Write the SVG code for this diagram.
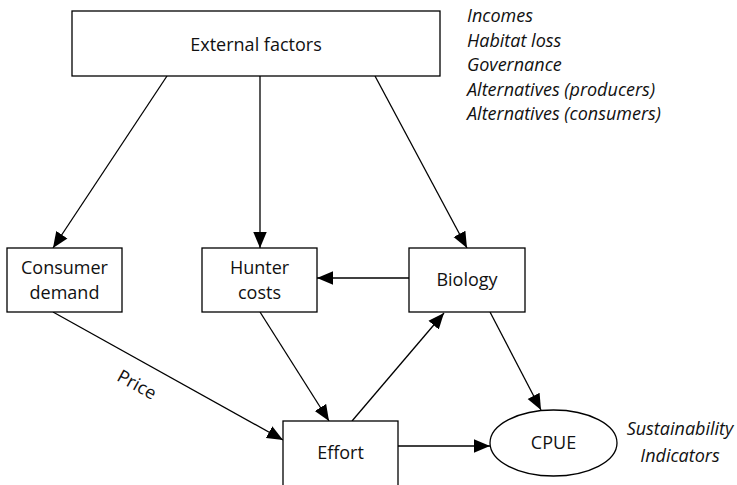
<svg xmlns="http://www.w3.org/2000/svg" width="737" height="485" viewBox="0 0 737 485">
  <defs>
    <marker id="arrow" viewBox="0 0 10 10" refX="10" refY="5" markerWidth="16" markerHeight="16" markerUnits="userSpaceOnUse" orient="auto">
      <path d="M0,0.8 L10,5 L0,9.2 z" fill="#000"/>
    </marker>
    <style>
      .box { fill: #fff; stroke: #000; stroke-width: 1.3; }
      .lbl { font-family: "Open Sans", "Noto Sans", sans-serif; font-size: 18px; fill: #111; text-anchor: middle; }
      .note { font-family: "Open Sans", "Noto Sans", sans-serif; font-size: 18px; font-style: italic; fill: #111; }
      .edge { stroke: #000; stroke-width: 1.3; fill: none; marker-end: url(#arrow); }
    </style>
  </defs>
  <rect width="737" height="485" fill="#fff"/>

  <g id="connectors">
    <line class="edge" x1="167" y1="76" x2="53" y2="248"/>
    <line class="edge" x1="260" y1="76" x2="260" y2="248"/>
    <line class="edge" x1="375" y1="76" x2="467" y2="248"/>
    <line class="edge" x1="409" y1="278" x2="317" y2="278"/>
    <line class="edge" x1="53" y1="312" x2="283" y2="440"/>
    <line class="edge" x1="260" y1="312" x2="329" y2="421"/>
    <line class="edge" x1="352" y1="421" x2="444" y2="313"/>
    <line class="edge" x1="490" y1="312" x2="541" y2="410"/>
    <line class="edge" x1="398" y1="446" x2="490" y2="446"/>
    <text class="lbl" transform="translate(134,390) rotate(29)">Price</text>
  </g>

  <g id="external-factors">
    <rect class="box" x="72" y="11" width="368" height="65"/>
    <text class="lbl" x="256" y="51">External factors</text>
  </g>

  <g id="external-factors-list">
    <text class="note" x="467" y="22">Incomes</text>
    <text class="note" x="467" y="46.5">Habitat loss</text>
    <text class="note" x="467" y="71">Governance</text>
    <text class="note" x="467" y="95.5">Alternatives (producers)</text>
    <text class="note" x="467" y="120">Alternatives (consumers)</text>
  </g>

  <g id="consumer-demand">
    <rect class="box" x="7" y="248" width="115" height="64"/>
    <text class="lbl" x="64.5" y="274">Consumer</text>
    <text class="lbl" x="64.5" y="299">demand</text>
  </g>

  <g id="hunter-costs">
    <rect class="box" x="202" y="248" width="115" height="64"/>
    <text class="lbl" x="259.5" y="274">Hunter</text>
    <text class="lbl" x="259.5" y="299">costs</text>
  </g>

  <g id="biology">
    <rect class="box" x="409" y="248" width="116" height="64"/>
    <text class="lbl" x="467" y="286">Biology</text>
  </g>

  <g id="effort">
    <rect class="box" x="283" y="421" width="115" height="70"/>
    <text class="lbl" x="340.5" y="459">Effort</text>
  </g>

  <g id="cpue">
    <ellipse class="box" cx="553.5" cy="443" rx="63.5" ry="33"/>
    <text class="lbl" x="553.5" y="449">CPUE</text>
  </g>

  <g id="sustainability-indicators">
    <text class="note" x="680" y="435" text-anchor="middle">Sustainability</text>
    <text class="note" x="680" y="462" text-anchor="middle">Indicators</text>
  </g>
</svg>
